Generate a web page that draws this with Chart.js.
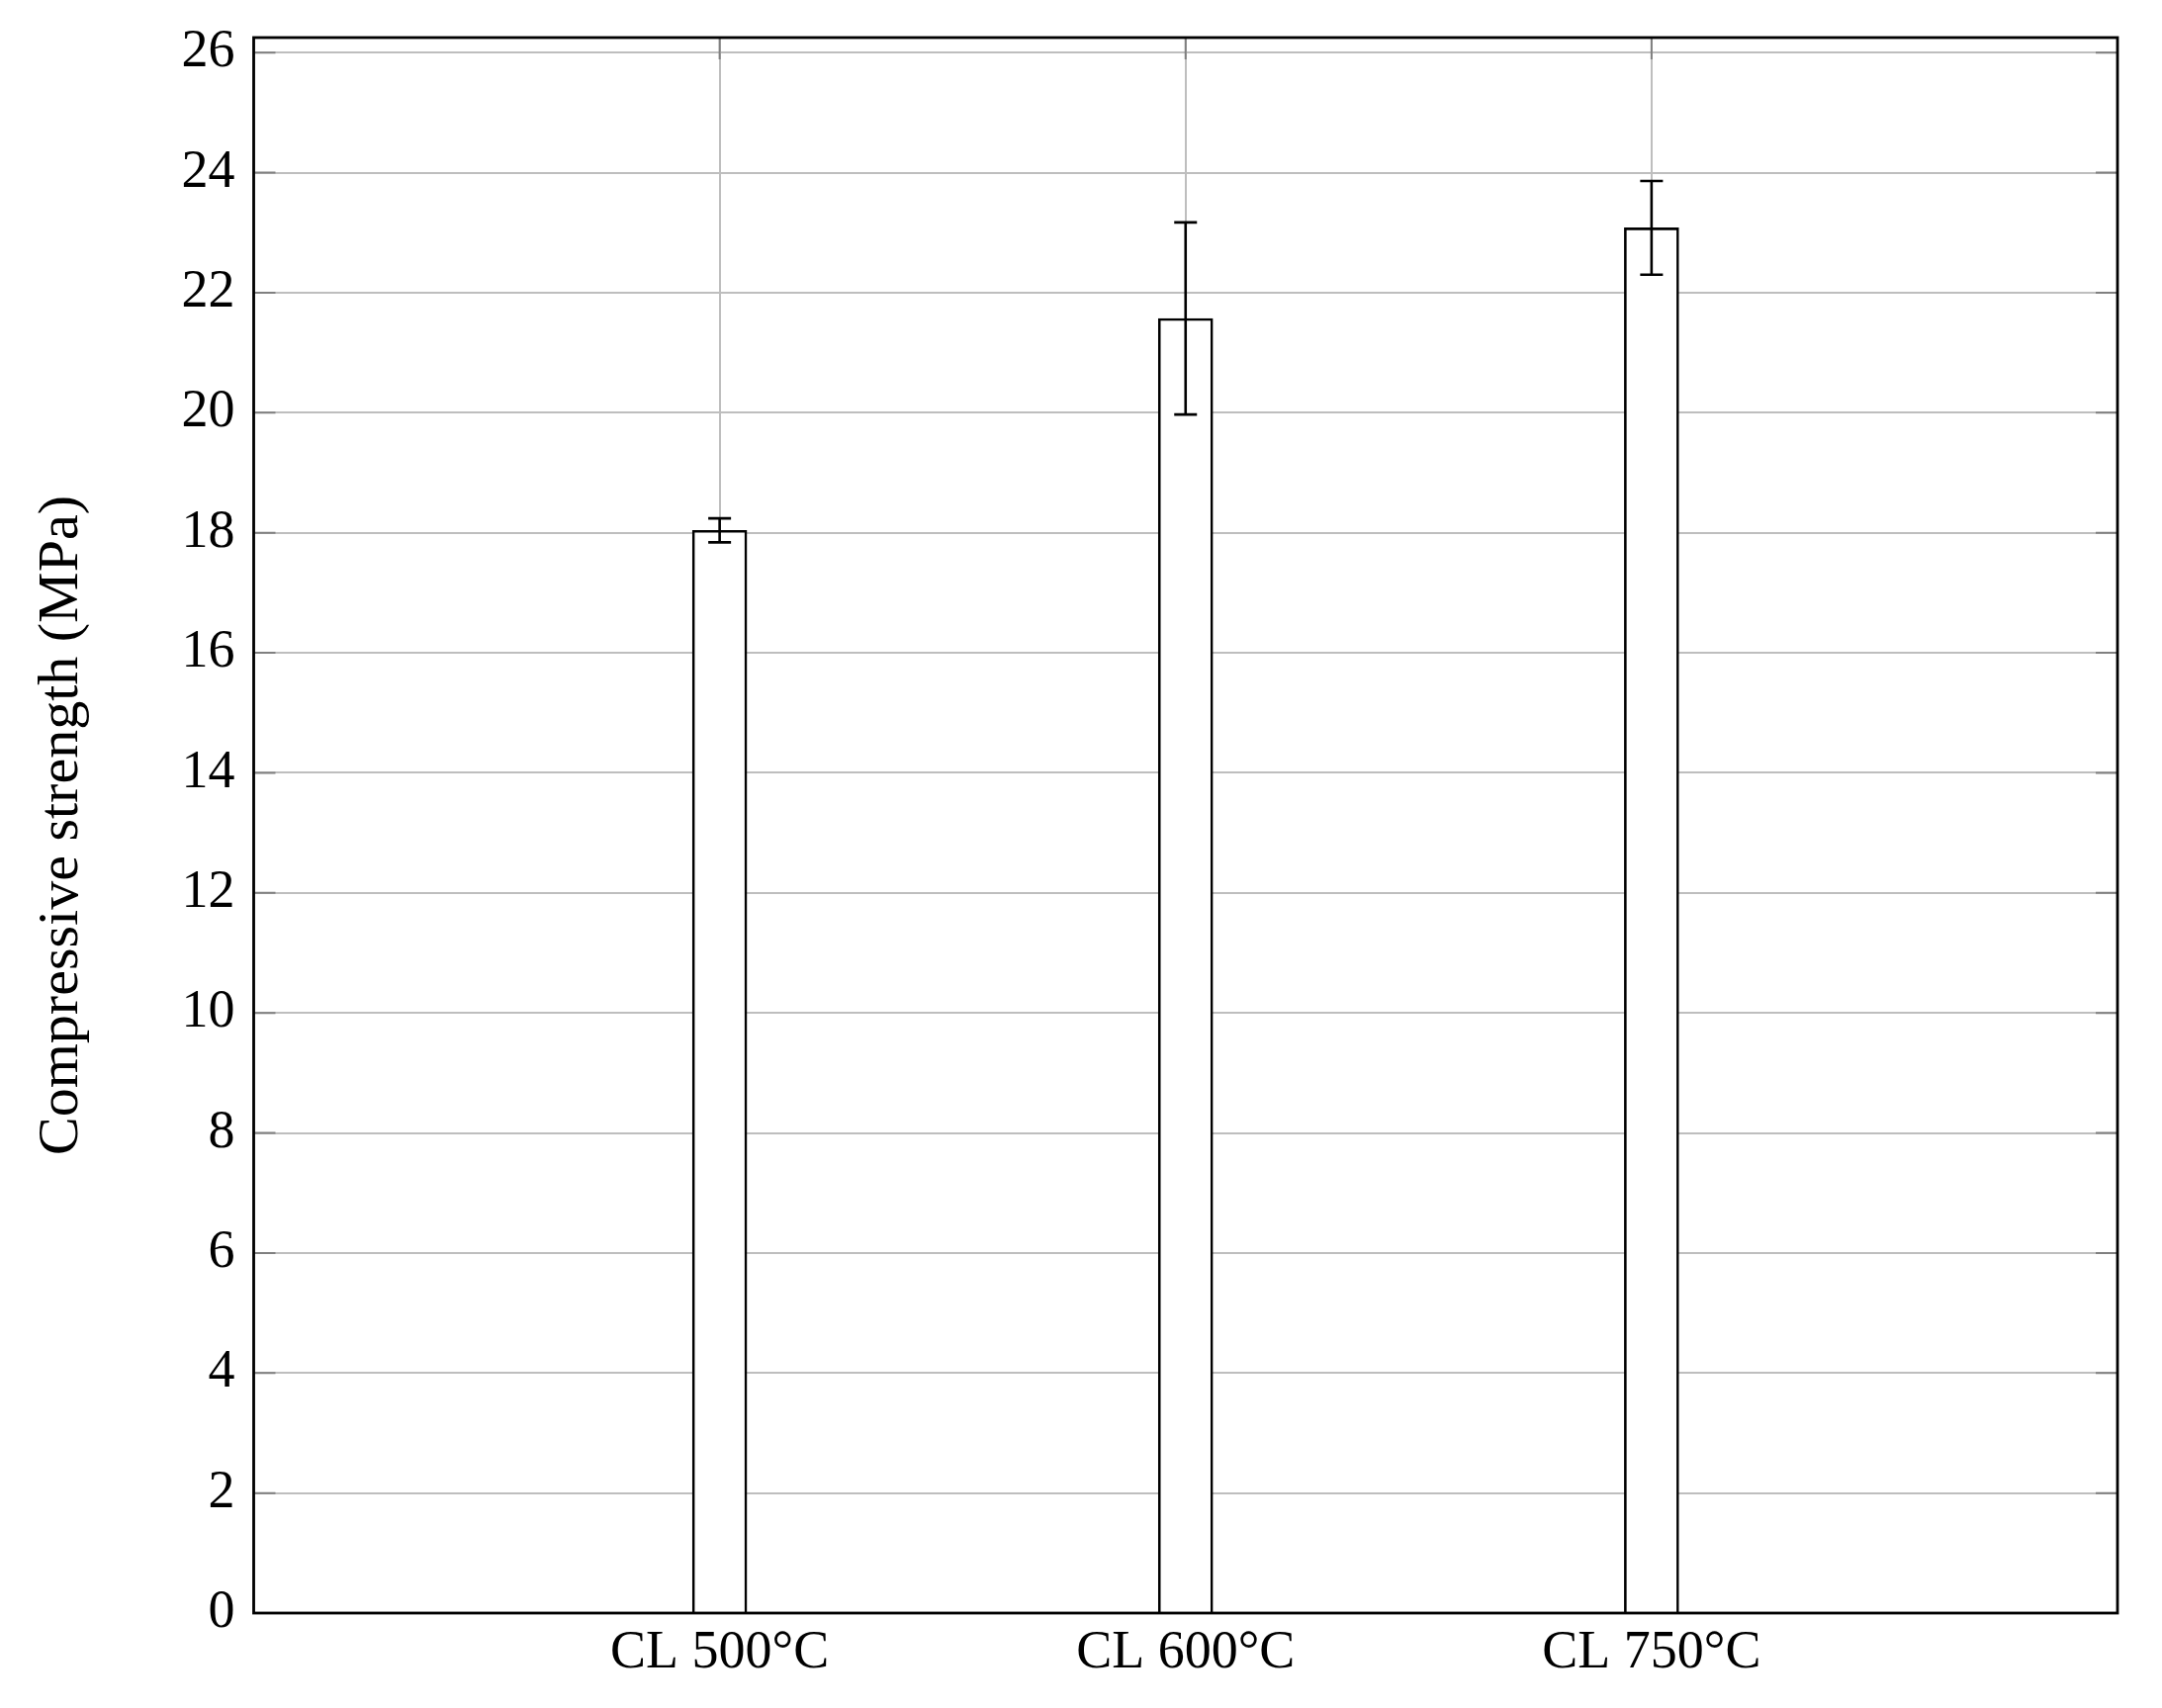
<!DOCTYPE html>
<html><head><meta charset="utf-8">
<script src="https://cdn.jsdelivr.net/npm/chart.js@4.4.1/dist/chart.umd.min.js"></script>
<style>html,body{margin:0;padding:0;background:#fff;} #wrap{width:2186px;height:1727px;position:relative;}</style>
</head><body><div id="wrap"><canvas id="c"></canvas></div>
<script>
const categories = ['CL 500°C', 'CL 600°C', 'CL 750°C'];
const strength = [18.04, 21.57, 23.08];
const errors = [0.20, 1.60, 0.78];
const yTicks = [0, 2, 4, 6, 8, 10, 12, 14, 16, 18, 20, 22, 24, 26];
const yTitle = 'Compressive strength (MPa)';

const labels = ['', ...categories, ''];
const values = [null, ...strength, null];
const errs = [null, ...errors, null];

const FONT = "'Liberation Serif', 'Times New Roman', serif";

const innerTicks = {
  id: 'innerTicks',
  beforeDatasetsDraw(chart) {
    const {ctx, chartArea: a, scales: {x, y}} = chart;
    ctx.save();
    ctx.strokeStyle = '#808080';
    ctx.lineWidth = 2;
    const L = 22;
    ctx.beginPath();
    yTicks.forEach(v => {
      const py = y.getPixelForValue(v);
      ctx.moveTo(a.left, py); ctx.lineTo(a.left + L, py);
      ctx.moveTo(a.right, py); ctx.lineTo(a.right - L, py);
    });
    categories.forEach((c, i) => {
      const px = x.getPixelForValue(i + 1);
      ctx.moveTo(px, a.top); ctx.lineTo(px, a.top + L);
      ctx.moveTo(px, a.bottom); ctx.lineTo(px, a.bottom - L);
    });
    ctx.stroke();
    ctx.restore();
  }
};

const errorBars = {
  id: 'errorBars',
  afterDatasetsDraw(chart) {
    const {ctx, scales: {x, y}} = chart;
    ctx.save();
    ctx.strokeStyle = '#000';
    ctx.lineWidth = 2.6;
    const cap = 11.5;
    values.forEach((v, i) => {
      if (v === null) return;
      const px = x.getPixelForValue(i);
      const yt = y.getPixelForValue(v + errs[i]);
      const yb = y.getPixelForValue(v - errs[i]);
      ctx.beginPath();
      ctx.moveTo(px, yt); ctx.lineTo(px, yb);
      ctx.moveTo(px - cap, yt); ctx.lineTo(px + cap, yt);
      ctx.moveTo(px - cap, yb); ctx.lineTo(px + cap, yb);
      ctx.stroke();
    });
    ctx.restore();
  }
};

const frame = {
  id: 'frame',
  afterDraw(chart) {
    const {ctx, chartArea: a} = chart;
    ctx.save();
    ctx.strokeStyle = '#000';
    ctx.lineWidth = 2.8;
    ctx.strokeRect(a.left, a.top, a.right - a.left, a.bottom - a.top);
    ctx.restore();
  }
};

new Chart(document.getElementById('c'), {
  type: 'bar',
  data: {
    labels: labels,
    datasets: [{
      data: values,
      backgroundColor: '#ffffff',
      borderColor: '#000000',
      borderWidth: 2.6,
      barThickness: 55
    }]
  },
  options: {
    responsive: true,
    maintainAspectRatio: false,
    animation: false,
    devicePixelRatio: 1,
    layout: {padding: {top: 38, right: 45, left: 0, bottom: 0}},
    plugins: {legend: {display: false}, tooltip: {enabled: false}},
    scales: {
      x: {
        offset: false,
        grid: {color: '#bebebe', lineWidth: 2, drawTicks: false, offset: false},
        border: {display: false},
        ticks: {color: '#000', font: {family: FONT, size: 54}, padding: 8, autoSkip: false, maxRotation: 0},
        afterFit(s) { s.height = 96; s.paddingLeft = 0; s.paddingRight = 0; }
      },
      y: {
        min: 0, max: 26.25,
        grid: {color: '#bebebe', lineWidth: 2, drawTicks: false},
        border: {display: false},
        afterBuildTicks(s) { s.ticks = yTicks.map(v => ({value: v})); },
        ticks: {color: '#000', font: {family: FONT, size: 54}, padding: 19},
        title: {display: true, text: yTitle, color: '#000', font: {family: FONT, size: 58}, padding: {top: 28, bottom: 0}},
        afterFit(s) { s.width = 256.5; s.paddingTop = 0; s.paddingBottom = 0; }
      }
    }
  },
  plugins: [innerTicks, errorBars, frame]
});
</script>
</body></html>
